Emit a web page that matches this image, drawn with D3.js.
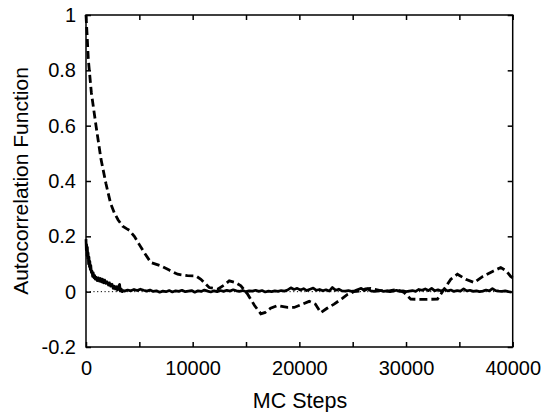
<!DOCTYPE html>
<html lang="en">
<head>
  <meta charset="UTF-8">
  <title>Autocorrelation Function</title>
  <script src="https://d3js.org/d3.v7.min.js"></script>
  <style>
    body { margin: 0; background: #fff; }
    text { font-family: Helvetica, "Liberation Sans", Arial, sans-serif; fill: #000; }
    .axis text { font-size: 20px; }
    .axis path { display: none; }
    .axis line { stroke: #000; stroke-width: 1.5; }
  </style>
</head>
<body>
<svg width="543" height="412"></svg>
<script>
  const svg = d3.select("svg");

  // plot frame
  const plotLeft = 86, plotRight = 512.7, plotTop = 15, plotBottom = 347;

  // axis ticks
  const xTicks = [0, 5000, 10000, 15000, 20000, 25000, 30000, 35000, 40000];
  const xLabels = [0, 10000, 20000, 30000, 40000];
  const yTicks = [-0.2, 0, 0.2, 0.4, 0.6, 0.8, 1];

  // dashed series (slowly decaying)
  const dashSteps = [0, 100, 215, 500, 937, 1400, 1874, 2300, 2655, 3000, 3435, 3800, 4060, 4530, 5000,
    5465, 6090, 7025, 7800, 8590, 9500, 10300, 10770, 11550, 12340, 13000, 13430, 14000, 14520, 15150,
    15800, 16390, 16800, 17300, 17960, 18900, 19510, 20300, 20920, 21500, 22010, 22600, 23260, 24000,
    24510, 25100, 25760, 26200, 26700, 27500, 28300, 28900, 29400, 29820, 30440, 31500, 32950, 33570,
    34200, 34820, 35600, 36380, 37200, 38200, 38880, 39400, 39810, 40000];
  const dashVals = [1.0, 0.93, 0.84, 0.72, 0.60, 0.48, 0.39, 0.32, 0.285, 0.26, 0.237, 0.228, 0.222, 0.20, 0.17,
    0.141, 0.105, 0.093, 0.078, 0.063, 0.058, 0.057, 0.045, 0.015, 0.009, 0.025, 0.039, 0.033, 0.021, -0.009,
    -0.05, -0.08, -0.075, -0.06, -0.05, -0.057, -0.057, -0.045, -0.035, -0.045, -0.076, -0.06, -0.045, -0.025,
    -0.01, 0.0, 0.003, 0.01, 0.012, 0.005, 0.002, 0.006, 0.004, -0.003, -0.027, -0.028, -0.027, 0.009,
    0.045, 0.063, 0.045, 0.033, 0.055, 0.075, 0.087, 0.075, 0.055, 0.05];

  // solid series, fast decay part
  const solidSteps = [0, 30, 60, 100, 130, 170, 200, 240, 280, 320, 360, 400, 450, 500, 560, 620, 680, 750,
    820, 870, 950, 1050, 1150, 1250, 1350, 1450, 1550, 1650, 1750, 1850, 1970, 2100, 2200, 2300, 2440,
    2550, 2650, 2750, 2850, 2950, 3060, 3150, 3210, 3300, 3400, 3500];
  const solidVals = [0.19, 0.15, 0.17, 0.13, 0.16, 0.12, 0.14, 0.10, 0.125, 0.09, 0.11, 0.08, 0.095, 0.07,
    0.075, 0.055, 0.068, 0.05, 0.058, 0.045, 0.052, 0.04, 0.05, 0.038, 0.048, 0.035, 0.045, 0.032, 0.042,
    0.03, 0.036, 0.024, 0.032, 0.02, 0.027, 0.012, 0.02, 0.01, 0.018, 0.006, 0.02, 0.026, 0.003, 0.01,
    0.0, 0.004];

  // solid series, noisy tail sampled every 300 steps from 3600
  const tailStart = 3600, tailStep = 300;
  const tailVals = [0.002, 0.006, 0.003, 0.008, 0.004, 0.009, 0.005, 0.002, 0.006, 0.001,
    0.003, -0.002, 0.002, 0.0, 0.004, -0.001, 0.003, 0.001, 0.005, 0.0,
    0.002, 0.004, -0.002, 0.003, 0.001, 0.006, 0.002, -0.001, 0.003, 0.0,
    0.004, 0.001, 0.005, 0.002, 0.007, 0.003, 0.001, 0.004, 0.0, 0.003,
    0.002, 0.005, 0.001, 0.004, -0.001, 0.002, 0.0, 0.003, 0.001, 0.004,
    0.002, 0.006, 0.014, 0.008, 0.012, 0.006, 0.011, 0.004, 0.009, 0.013,
    0.005, 0.008, 0.003, 0.007, 0.002, 0.015, 0.005, 0.009, 0.003, 0.002,
    0.004, 0.001, 0.003, 0.008, 0.012, 0.004, 0.010, 0.003, 0.001, 0.002,
    0.004, 0.001, 0.003, 0.0, 0.002, 0.005, 0.001, 0.003, 0.0, 0.002,
    0.004, 0.001, 0.008, 0.005, 0.010, 0.004, 0.012, 0.003, 0.007, 0.002,
    0.009, 0.003, 0.006, 0.001, 0.004, 0.002, 0.010, 0.003, 0.005, 0.001,
    0.003, 0.0, 0.002, 0.006, 0.003, 0.011, 0.004, 0.002, 0.001, 0.003,
    0.0, -0.002];

  const x = d3.scaleLinear().domain([0, 40000]).range([plotLeft, plotRight]);
  const y = d3.scaleLinear().domain([-0.2, 1]).range([plotBottom, plotTop]);

  const dashData = dashSteps.map((s, i) => [s, dashVals[i]]);
  const solidData = solidSteps.map((s, i) => [s, solidVals[i]])
    .concat(tailVals.map((v, i) => [tailStart + i * tailStep, v]));

  const line = d3.line().x(d => x(d[0])).y(d => y(d[1]));

  // zero reference (dotted)
  svg.append("line")
      .attr("x1", x(0)).attr("x2", x(40000))
      .attr("y1", y(0)).attr("y2", y(0))
      .attr("stroke", "#000").attr("stroke-width", 1)
      .attr("stroke-dasharray", "1.2,2.5");

  svg.append("path")
      .datum(solidData)
      .attr("fill", "none")
      .attr("stroke", "#000")
      .attr("stroke-width", 2.7)
      .attr("stroke-linejoin", "round")
      .attr("d", line);

  svg.append("path")
      .datum(dashData)
      .attr("fill", "none")
      .attr("stroke", "#000")
      .attr("stroke-width", 2.8)
      .attr("stroke-dasharray", "8,4")
      .attr("d", line);

  // axes, ticks pointing inward on all four sides
  const hyphen = d => String(d).replace("\u2212", "-");
  svg.append("g").attr("class", "axis")
      .attr("transform", `translate(0,${plotBottom})`)
      .call(d3.axisBottom(x).tickValues(xTicks).tickSizeInner(-5).tickSizeOuter(0).tickPadding(14)
        .tickFormat(d => xLabels.includes(d) ? d : ""));
  svg.append("g").attr("class", "axis")
      .attr("transform", `translate(0,${plotTop})`)
      .call(d3.axisTop(x).tickValues(xTicks).tickSizeInner(-5).tickSizeOuter(0).tickFormat(""));
  svg.append("g").attr("class", "axis")
      .attr("transform", `translate(${plotLeft},0)`)
      .call(d3.axisLeft(y).tickValues(yTicks).tickSizeInner(-5).tickSizeOuter(0).tickPadding(10)
        .tickFormat(hyphen));
  svg.append("g").attr("class", "axis")
      .attr("transform", `translate(${plotRight},0)`)
      .call(d3.axisRight(y).tickValues(yTicks).tickSizeInner(-5).tickSizeOuter(0).tickFormat(""));

  svg.append("rect")
      .attr("x", plotLeft).attr("y", plotTop)
      .attr("width", plotRight - plotLeft).attr("height", plotBottom - plotTop)
      .attr("fill", "none").attr("stroke", "#000").attr("stroke-width", 1.5);

  // axis titles
  svg.append("text")
      .attr("x", 300).attr("y", 408)
      .attr("text-anchor", "middle")
      .style("font-size", "21.5px")
      .text("MC Steps");
  svg.append("text")
      .attr("transform", `translate(28,${(plotTop + plotBottom) / 2}) rotate(-90)`)
      .attr("text-anchor", "middle")
      .style("font-size", "21px")
      .text("Autocorrelation Function");
</script>
</body>
</html>
